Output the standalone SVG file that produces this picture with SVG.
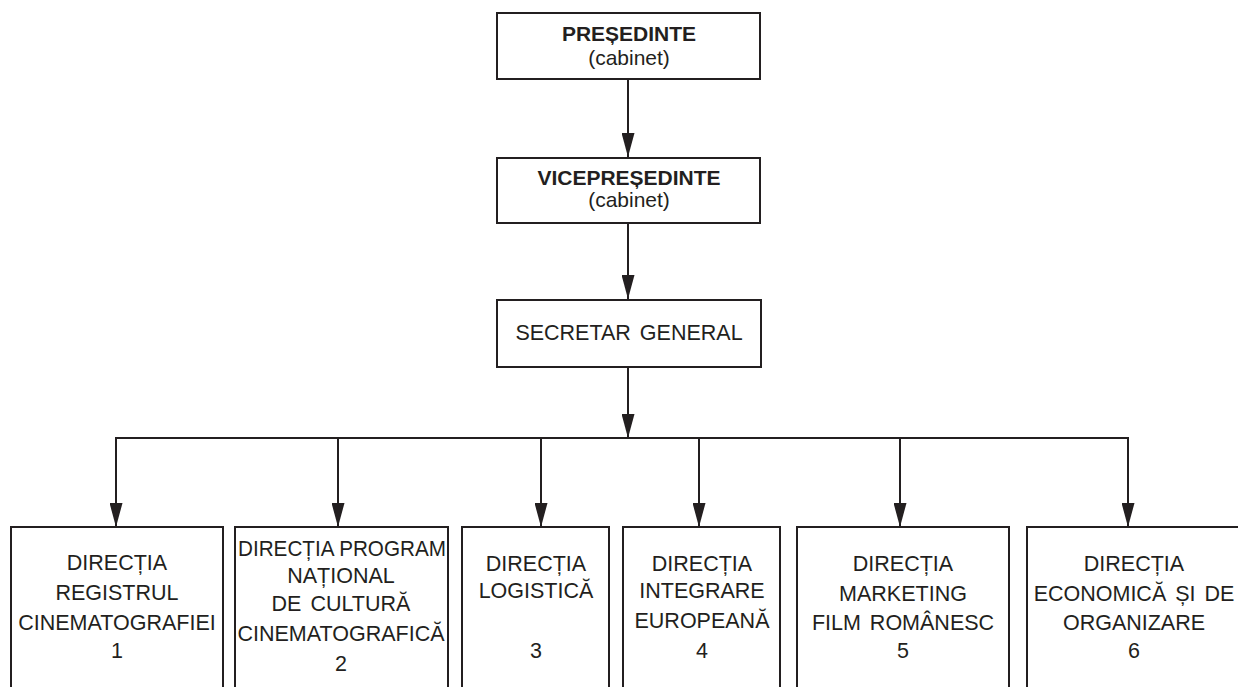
<svg xmlns="http://www.w3.org/2000/svg" width="1238" height="687" viewBox="0 0 1238 687">
<style>
  .box{fill:#fff;stroke:#231f20;stroke-width:2}
  .ln{fill:none;stroke:#231f20;stroke-width:2}
  .t{font-family:"Liberation Sans",Arial,sans-serif;font-size:21.5px;fill:#231f20;text-anchor:middle;word-spacing:3px}
  .b{font-weight:bold;font-size:21px;word-spacing:0}
  .c{font-size:21px;word-spacing:0}
  .n{word-spacing:0}
</style>
<defs>
  <marker id="arr" markerUnits="userSpaceOnUse" markerWidth="24" markerHeight="13" refX="24" refY="6.5" orient="auto">
    <path d="M0,0 L24,6.5 L0,13 Z" fill="#231f20"/>
  </marker>
</defs>
<rect width="1238" height="687" fill="#fff"/>
<g id="connectors">
  <line class="ln" x1="628" y1="79" x2="628" y2="157" marker-end="url(#arr)"/>
  <line class="ln" x1="628" y1="223" x2="628" y2="299" marker-end="url(#arr)"/>
  <line class="ln" x1="628" y1="367" x2="628" y2="438" marker-end="url(#arr)"/>
  <line class="ln" x1="115" y1="438" x2="1129" y2="438"/>
  <line class="ln" x1="116" y1="437" x2="116" y2="527" marker-end="url(#arr)"/>
  <line class="ln" x1="338" y1="438" x2="338" y2="527" marker-end="url(#arr)"/>
  <line class="ln" x1="541" y1="438" x2="541" y2="527" marker-end="url(#arr)"/>
  <line class="ln" x1="699" y1="438" x2="699" y2="527" marker-end="url(#arr)"/>
  <line class="ln" x1="900" y1="438" x2="900" y2="527" marker-end="url(#arr)"/>
  <line class="ln" x1="1128" y1="437" x2="1128" y2="527" marker-end="url(#arr)"/>
</g>
<g id="presedinte">
  <rect class="box" x="497" y="13" width="263" height="66"/>
  <text class="t b" x="629" y="41">PREȘEDINTE</text>
  <text class="t c" x="629" y="65">(cabinet)</text>
</g>
<g id="vicepresedinte">
  <rect class="box" x="497" y="158" width="263" height="65"/>
  <text class="t b" x="629" y="185">VICEPREȘEDINTE</text>
  <text class="t c" x="629" y="207">(cabinet)</text>
</g>
<g id="secretar">
  <rect class="box" x="497" y="300" width="264" height="67"/>
  <text class="t" x="629" y="340">SECRETAR GENERAL</text>
</g>
<g id="dir1">
  <rect class="box" x="11" y="527" width="212" height="180"/>
  <text class="t" x="117" y="570">DIRECȚIA</text>
  <text class="t" x="117" y="600">REGISTRUL</text>
  <text class="t" x="117" y="630">CINEMATOGRAFIEI</text>
  <text class="t" x="117" y="658">1</text>
</g>
<g id="dir2">
  <rect class="box" x="235" y="527" width="213" height="180"/>
  <text class="t n" x="342" y="556" textLength="208" lengthAdjust="spacingAndGlyphs">DIRECȚIA PROGRAM</text>
  <text class="t" x="341" y="583">NAȚIONAL</text>
  <text class="t" x="341" y="611">DE CULTURĂ</text>
  <text class="t" x="341" y="641">CINEMATOGRAFICĂ</text>
  <text class="t" x="341" y="671">2</text>
</g>
<g id="dir3">
  <rect class="box" x="462" y="527" width="147" height="180"/>
  <text class="t" x="536" y="571">DIRECȚIA</text>
  <text class="t" x="536" y="598">LOGISTICĂ</text>
  <text class="t" x="536" y="658">3</text>
</g>
<g id="dir4">
  <rect class="box" x="623" y="527" width="157" height="180"/>
  <text class="t" x="702" y="571">DIRECȚIA</text>
  <text class="t" x="702" y="598">INTEGRARE</text>
  <text class="t" x="702" y="628">EUROPEANĂ</text>
  <text class="t" x="702" y="658">4</text>
</g>
<g id="dir5">
  <rect class="box" x="797" y="527" width="212" height="180"/>
  <text class="t" x="903" y="571">DIRECȚIA</text>
  <text class="t" x="903" y="601">MARKETING</text>
  <text class="t" x="903" y="630">FILM ROMÂNESC</text>
  <text class="t" x="903" y="658">5</text>
</g>
<g id="dir6">
  <rect class="box" x="1027" y="527" width="230" height="180"/>
  <text class="t" x="1134" y="571">DIRECȚIA</text>
  <text class="t" x="1134" y="601">ECONOMICĂ ȘI DE</text>
  <text class="t" x="1134" y="630">ORGANIZARE</text>
  <text class="t" x="1134" y="658">6</text>
</g>
</svg>
